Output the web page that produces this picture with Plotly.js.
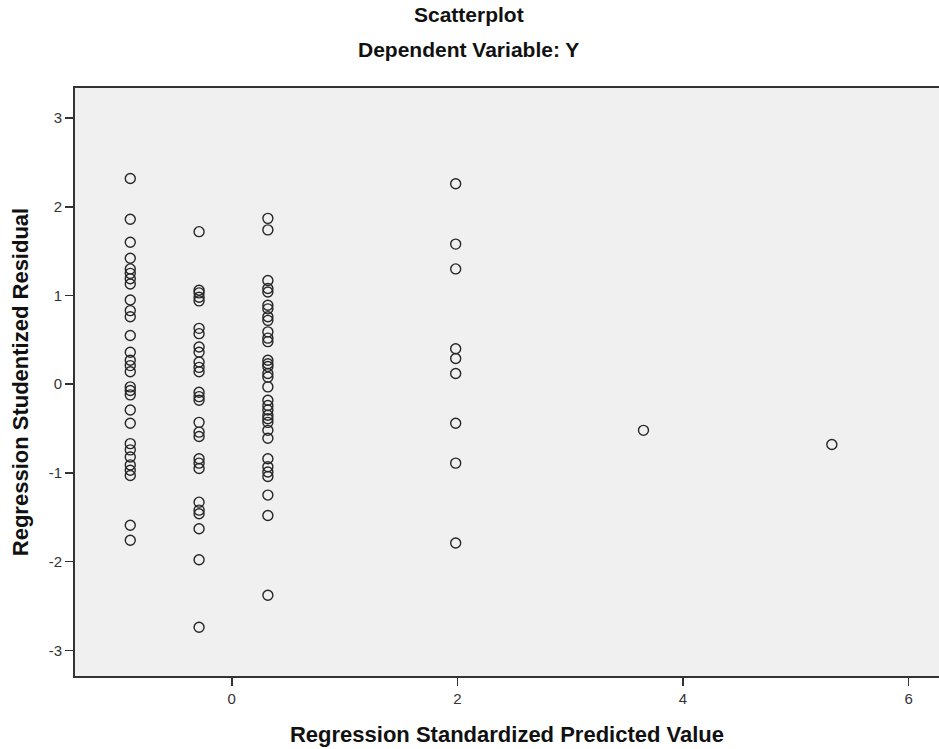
<!DOCTYPE html>
<html>
<head>
<meta charset="utf-8">
<script src="https://cdn.plot.ly/plotly-3.0.1.min.js"></script>
<style>html,body{margin:0;padding:0;background:#fff;}#chart{width:939px;height:749px;}</style>
</head>
<body>
<div id="chart"></div>
<script>
// Regression Standardized Predicted Value for each group of points
var groupPredicted = [-0.90, -0.29, 0.32, 1.985, 3.65, 5.32];
// Regression Studentized Residual values for each group
var residG1 = [2.32, 1.86, 1.60, 1.42, 1.30, 1.25, 1.19, 1.13, 0.95, 0.83, 0.76, 0.55, 0.36, 0.27, 0.21, 0.14, -0.03, -0.07, -0.12, -0.29, -0.44, -0.67, -0.74, -0.82, -0.91, -0.97, -1.03, -1.59, -1.76];
var residG2 = [1.72, 1.06, 1.03, 0.98, 0.94, 0.63, 0.57, 0.42, 0.36, 0.25, 0.19, 0.14, -0.09, -0.14, -0.18, -0.43, -0.54, -0.59, -0.84, -0.89, -0.95, -1.33, -1.42, -1.46, -1.63, -1.98, -2.74];
var residG3 = [1.87, 1.74, 1.17, 1.08, 1.04, 0.89, 0.85, 0.76, 0.72, 0.59, 0.52, 0.48, 0.27, 0.23, 0.20, 0.12, 0.08, -0.03, -0.18, -0.24, -0.29, -0.35, -0.39, -0.43, -0.52, -0.61, -0.84, -0.93, -0.99, -1.04, -1.25, -1.48, -2.38];
var residG4 = [2.26, 1.58, 1.30, 0.40, 0.29, 0.12, -0.44, -0.89, -1.79];
var residG5 = [-0.52];
var residG6 = [-0.68];

var xTickVals = [0, 2, 4, 6];
var yTickVals = [-3, -2, -1, 0, 1, 2, 3];

var groups = [residG1, residG2, residG3, residG4, residG5, residG6];
var xs = [], ys = [];
groups.forEach(function (g, i) {
  g.forEach(function (v) { xs.push(groupPredicted[i]); ys.push(v); });
});

var font = '"Liberation Sans", Arial, sans-serif';

var trace = {
  x: xs, y: ys, type: 'scatter', mode: 'markers',
  marker: {symbol: 'circle-open', size: 10, color: '#262626', line: {width: 1.4, color: '#262626'}},
  hoverinfo: 'x+y', showlegend: false
};

var layout = {
  width: 939, height: 749,
  margin: {l: 75, r: 0, t: 88, b: 73},
  paper_bgcolor: '#ffffff',
  plot_bgcolor: '#f0f0f0',
  font: {family: font, color: '#000'},
  xaxis: {
    range: [-1.39, 6.27], tickvals: xTickVals, ticktext: xTickVals.map(String),
    showgrid: false, zeroline: false,
    showline: true, linecolor: '#333', linewidth: 2, mirror: true,
    ticks: 'outside', ticklen: 8, tickwidth: 1.5, tickcolor: '#333',
    tickfont: {size: 15, color: '#333', family: font},
    title: {text: '<b>Regression Standardized Predicted Value</b>', font: {size: 22, color: '#111', family: font}, standoff: 21}
  },
  yaxis: {
    range: [-3.29, 3.34], tickvals: yTickVals, ticktext: yTickVals.map(String),
    showgrid: false, zeroline: false,
    showline: true, linecolor: '#333', linewidth: 2, mirror: false,
    ticks: 'outside', ticklen: 8, tickwidth: 1.5, tickcolor: '#333',
    tickfont: {size: 15, color: '#333', family: font},
    title: {text: '<b>Regression Studentized Residual</b>', font: {size: 22, color: '#111', family: font}, standoff: 14}
  },
  annotations: [
    {text: '<b>Scatterplot</b>', xref: 'paper', yref: 'paper', x: 0.456, y: 1, yshift: 74, showarrow: false, font: {size: 21, color: '#111', family: font}, xanchor: 'center', yanchor: 'middle'},
    {text: '<b>Dependent Variable: Y</b>', xref: 'paper', yref: 'paper', x: 0.456, y: 1, yshift: 39, showarrow: false, font: {size: 21, color: '#111', family: font}, xanchor: 'center', yanchor: 'middle'}
  ]
};

Plotly.newPlot('chart', [trace], layout, {displayModeBar: false, staticPlot: true});
</script>
</body>
</html>
